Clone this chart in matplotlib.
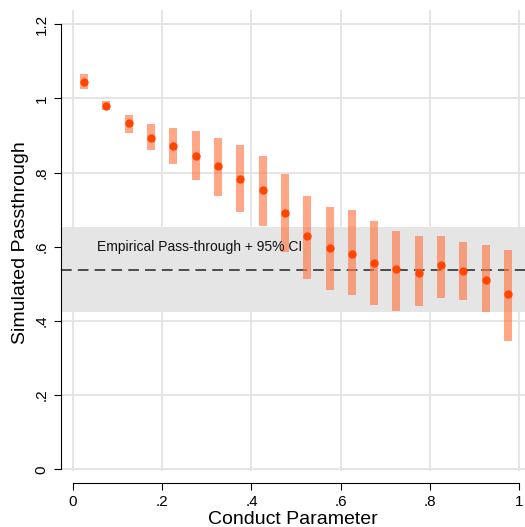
import numpy as np
import matplotlib.pyplot as plt

plt.rcParams['font.family'] = ['Liberation Sans', 'DejaVu Sans']

# Simulated passthrough by conduct parameter
conduct = [0.025, 0.075, 0.125, 0.175, 0.225, 0.275, 0.325, 0.375, 0.425, 0.475,
           0.525, 0.575, 0.625, 0.675, 0.725, 0.775, 0.825, 0.875, 0.925, 0.975]
passthrough = [1.044, 0.979, 0.933, 0.893, 0.871, 0.844, 0.817, 0.782, 0.752, 0.690,
               0.628, 0.597, 0.579, 0.556, 0.541, 0.528, 0.550, 0.534, 0.511, 0.473]
ci_low = [1.024, 0.968, 0.906, 0.860, 0.823, 0.779, 0.736, 0.693, 0.655, 0.586,
          0.513, 0.482, 0.469, 0.444, 0.428, 0.441, 0.463, 0.455, 0.423, 0.345]
ci_high = [1.065, 0.992, 0.955, 0.930, 0.920, 0.911, 0.893, 0.874, 0.844, 0.796,
           0.738, 0.708, 0.698, 0.668, 0.642, 0.628, 0.629, 0.613, 0.604, 0.590]

# Empirical pass-through and its 95% CI
emp = 0.538
emp_low = 0.425
emp_high = 0.653

xticks = [0, 0.2, 0.4, 0.6, 0.8, 1]
xticklabels = ['0', '.2', '.4', '.6', '.8', '1']
yticks = [0, 0.2, 0.4, 0.6, 0.8, 1, 1.2]
yticklabels = ['0', '.2', '.4', '.6', '.8', '1', '1.2']

fig = plt.figure(figsize=(5.25, 5.27), dpi=100)
ax = fig.add_axes([0.116, 0.106, 0.884, 0.875])

# band + dashed line
ax.axhspan(emp_low, emp_high, color='#e5e5e5', zorder=1, lw=0)
ax.axhline(emp, color='#222222', lw=1.1, dashes=(7, 4), zorder=2)
ax.text(0.053, 0.598, 'Empirical Pass-through + 95% CI', fontsize=10,
        va='center', ha='left', color='#111111', zorder=5)

# CI bars and point estimates
lo = np.array(ci_low)
hi = np.array(ci_high)
ax.bar(conduct, hi - lo, bottom=lo, width=0.018, color=(1.0, 0.47, 0.27),
       alpha=0.65, lw=0, zorder=3)
ax.scatter(conduct, passthrough, s=36, color='#ff4500', zorder=4, lw=0)

ax.set_xlim(-0.027, 1.013)
ax.set_ylim(-0.005, 1.238)
ax.set_xticks(xticks)
ax.set_xticklabels(xticklabels)
ax.set_yticks(yticks)
ax.set_yticklabels(yticklabels, rotation=90, va='center')

ax.grid(True, color='#e3e3e3', lw=1.3, zorder=0)
ax.set_axisbelow(True)

for s in ['top', 'right']:
    ax.spines[s].set_visible(False)
ax.spines['left'].set_bounds(0, 1.2)
ax.spines['bottom'].set_bounds(0, 1)
ax.spines['bottom'].set_position(('outward', 8.5))
ax.tick_params(length=5, width=0.8, labelsize=11, pad=4)

ax.set_xlabel('Conduct Parameter', fontsize=14, labelpad=1)
ax.set_ylabel('Simulated Passthrough', fontsize=14)
ax.yaxis.set_label_coords(-0.068, 0.495)

fig.savefig('out.png', dpi=100)
